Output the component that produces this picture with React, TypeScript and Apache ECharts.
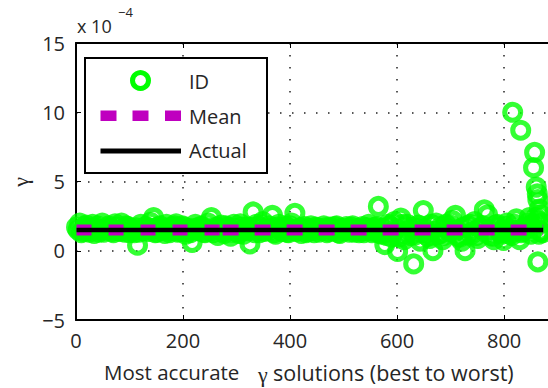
import React, { useEffect, useRef } from "react";
import * as echarts from "echarts";

// ---------- data ----------
const xTickLabels = ["0", "200", "400", "600", "800"];
const yTickLabels = ["−5", "0", "5", "10", "15"];
const yScaleLabel = "x 10";
const yScaleExp = "−4";
const xAxisTitleA = "Most accurate";
const xAxisTitleB = "solutions (best to worst)";
const gammaSymbol = "γ";
const legendNames = ["ID", "Mean", "Actual"];

// ID solutions (x 10^-4), ranked best to worst; band samples every 6th rank
const idRankStep = 6;
const idFirstRankA = 1;
const idBandValuesA = [
  1.7, 2.0, 1.4, 1.85, 1.35, 1.9, 1.6, 1.35, 2.0, 1.5, 1.8, 1.4,
  1.95, 1.45, 2.0, 1.35, 1.75, 1.6, 1.3, 0.4, 1.9, 1.45, 1.7, 2.05,
  2.4, 1.35, 1.8, 1.5, 1.9, 1.3, 1.7, 1.95, 1.4, 1.8, 1.2, 1.6,
  0.6, 1.9, 1.45, 1.75, 1.3, 2.0, 2.4, 1.5, 1.1, 1.85, 1.25, 1.7,
  1.05, 1.9, 1.4, 1.95, 1.2, 1.7, 0.5, 2.8, 1.9, 1.3, 2.1, 1.5,
  1.8, 2.55, 1.2, 1.9, 1.4, 1.75, 1.3, 2.0, 2.7, 1.5, 1.25, 1.75,
  1.4, 1.8, 1.3, 1.65, 1.5, 1.8, 1.3, 1.7, 1.45, 1.8, 1.25, 1.6,
  1.75, 1.35, 1.8, 1.5, 1.3, 1.75, 1.45, 1.9, 1.3, 1.7, 3.2, 1.2,
  0.45, 1.9, 1.0, 2.1, -0.05, 2.35, 0.8, 1.9, 1.1, -0.95, 1.6, 0.7,
  2.9, 1.3, 0.9, 0.0, 2.0, 1.2, 0.8, 1.9, 1.4, 2.2, 2.55, 1.0,
  0.7, 0.0, 1.8, 1.2, 2.1, 0.9, 1.6, 2.95, 2.6, 1.1, 0.8, 1.9,
  1.3, 0.75, 2.0, 1.2, 1.5, 2.3, 0.8, 1.4, 1.6, 2.4, 1.9, 2.4,
  1.2,
];
const idFirstRankB = 4;
const idBandValuesB = [
  1.5, 1.3, 1.75, 1.45, 1.6, 1.25, 1.8, 1.5, 1.35, 1.65, 1.55, 1.3,
  1.7, 1.4, 1.6, 1.8, 1.3, 1.5, 1.65, 1.35, 1.55, 1.75, 1.4, 1.6,
  1.3, 1.7, 1.5, 1.25, 1.65, 1.45, 1.8, 1.35, 1.55, 1.7, 1.4, 1.3,
  1.6, 1.5, 1.75, 1.35, 1.65, 1.45, 1.3, 1.7, 1.55, 1.4, 1.8, 1.5,
  1.35, 1.6, 1.25, 1.7, 1.5, 1.45, 1.65, 1.3, 1.75, 1.55, 1.4, 1.6,
  1.5, 1.3, 1.7, 1.45, 1.6, 1.35, 1.8, 1.5, 1.4, 1.65, 1.55, 1.3,
  1.6, 1.45, 1.7, 1.35, 1.55, 1.65, 1.4, 1.5, 1.75, 1.3, 1.6, 1.45,
  1.55, 1.7, 1.35, 1.6, 1.45, 1.3, 1.65, 1.5, 1.4, 1.75, 1.25, 1.6,
  1.1, 1.8, 1.3, 1.6, 1.0, 1.9, 1.2, 1.5, 1.7, 1.15, 1.85, 1.3,
  1.6, 1.05, 1.9, 1.4, 1.2, 1.75, 1.1, 1.6, 1.85, 1.3, 1.5, 1.0,
  1.7, 1.2, 1.9, 1.4, 1.1, 1.65, 1.8, 1.3, 1.5, 1.05, 1.85, 1.6,
  1.2, 1.75, 1.4, 1.1, 1.9, 1.5, 1.3, 1.7, 2.0, 1.2, 1.6, 2.2,
  1.4,
];
const idExtraPoints: [number, number][] = [
  [816, 10.0], [831, 8.7], [857, 7.1], [855, 6.0], [860, 4.6], [862, 4.1],
  [863, 3.7], [866, 3.0], [868, 2.6], [863, -0.8], [870, 2.0], [872, 1.3],
];

const meanValue = 1.5;
const actualValue = 1.5;
const firstRank = 1;
const meanBreakRank = 274;
const lastRank = 873;

// ---------- styles ----------
const FONT = "'Open Sans', 'Noto Sans', sans-serif";
const GREEK = "'Liberation Serif', 'DejaVu Serif', serif";
const TEXT = "#262626";
const GREEN = "#00ff00";
const MAGENTA = "#bf00bf";

function txt(x: number, y: number, text: string, font: string, align = "left", extra: any = {}) {
  return {
    type: "text",
    x,
    y,
    z: 100,
    ...extra,
    style: {
      text,
      fill: TEXT,
      font,
      align,
      verticalAlign: "middle",
      textAlign: align,
      textVerticalAlign: "middle",
    },
  };
}

export default function App() {
  const ref = useRef<HTMLDivElement>(null);

  useEffect(() => {
    if (!ref.current) return;
    const chart = echarts.init(ref.current, undefined, { renderer: "svg" });

    const idData: [number, number][] = [];
    idBandValuesA.forEach((v, i) => idData.push([idFirstRankA + i * idRankStep, v]));
    idBandValuesB.forEach((v, i) => idData.push([idFirstRankB + i * idRankStep, v]));
    idExtraPoints.forEach((p) => idData.push(p));

    const minus = (v: number) => String(v).replace("-", "−");
    const axisLine = { show: true, onZero: false, lineStyle: { color: "#000", width: 2 } };
    const tick = { show: true, inside: true, length: 5, lineStyle: { color: "#000", width: 1 } };
    const dotted = {
      show: true,
      showMaxLine: false,
      lineStyle: { color: "#222", width: 1.5, type: [1.5, 10.5] },
    };

    const option: any = {
      animation: false,
      backgroundColor: "#ffffff",
      grid: { left: 76, top: 43, bottom: 68, right: 0, show: false },
      xAxis: [
        {
          type: "value",
          min: 0,
          max: 882,
          interval: 200,
          axisLine,
          axisTick: tick,
          axisLabel: {
            show: true,
            margin: 10,
            color: TEXT,
            fontFamily: FONT,
            fontSize: 20,
            showMaxLabel: false,
            formatter: (v: number) => {
              const s = String(v);
              return xTickLabels.indexOf(s) >= 0 ? s : "";
            },
          },
          splitLine: dotted,
        },
        {
          type: "value",
          position: "top",
          min: 0,
          max: 882,
          interval: 200,
          axisLine,
          axisTick: tick,
          axisLabel: { show: false },
          splitLine: { show: false },
        },
      ],
      yAxis: {
        type: "value",
        min: -5,
        max: 15,
        interval: 5,
        axisLine,
        axisTick: tick,
        axisLabel: {
          margin: 11,
          color: TEXT,
          fontFamily: FONT,
          fontSize: 20,
          formatter: (v: number) => {
            const s = minus(v);
            return yTickLabels.indexOf(s) >= 0 ? s : "";
          },
        },
        splitLine: { ...dotted, showMaxLine: true },
      },
      series: [
        {
          name: legendNames[0],
          type: "scatter",
          data: idData,
          symbol: "circle",
          symbolSize: 16,
          itemStyle: { color: "rgba(0,0,0,0)", borderColor: GREEN, borderWidth: 5 },
          emphasis: { disabled: true },
          z: 2,
        },
        {
          name: legendNames[1],
          type: "line",
          data: [
            [firstRank, meanValue],
            [meanBreakRank, meanValue],
          ],
          symbol: "none",
          lineStyle: { color: MAGENTA, width: 11, type: [15, 17], cap: "butt" },
          z: 3,
        },
        {
          name: legendNames[1] + " ",
          type: "line",
          data: [
            [meanBreakRank, meanValue],
            [lastRank, meanValue],
          ],
          symbol: "none",
          lineStyle: { color: MAGENTA, width: 11, type: [16, 16], cap: "butt" },
          z: 3,
        },
        {
          name: legendNames[2],
          type: "line",
          data: [
            [firstRank, actualValue],
            [lastRank, actualValue],
          ],
          symbol: "none",
          lineStyle: { color: "#000", width: 4.5, cap: "butt" },
          z: 4,
        },
      ],
      graphic: [
        // scale factor above the y axis
        txt(77, 26, yScaleLabel, `18px ${FONT}`),
        txt(118, 12, yScaleExp, `13px ${FONT}`),
        // axis titles
        txt(104, 372, xAxisTitleA, `20.5px ${FONT}`),
        txt(258, 374, gammaSymbol, `22px ${GREEK}`),
        txt(273, 372, xAxisTitleB, `21.5px ${FONT}`),
        txt(20, 182, gammaSymbol, `22px ${GREEK}`, "center", { rotation: Math.PI / 2 }),
        // legend
        {
          type: "rect",
          z: 100,
          shape: { x: 85, y: 58, width: 182, height: 115 },
          style: { fill: "#ffffff", stroke: "#000", lineWidth: 2 },
        },
        {
          type: "circle",
          z: 101,
          shape: { cx: 140.5, cy: 80.5, r: 8 },
          style: { fill: "none", stroke: GREEN, lineWidth: 5 },
        },
        ...[100.5, 132.5, 165].map((x) => ({
          type: "rect",
          z: 101,
          shape: { x, y: 110.5, width: 16, height: 10.5 },
          style: { fill: MAGENTA },
        })),
        {
          type: "line",
          z: 101,
          shape: { x1: 100.5, y1: 151, x2: 181, y2: 151 },
          style: { stroke: "#000", lineWidth: 5 },
        },
        ...legendNames.map((name, i) =>
          txt(189, [81, 116, 150.5][i], name, `20px ${FONT}`, "left", { z: 102 })
        ),
      ],
    };

    chart.setOption(option);
    return () => chart.dispose();
  }, []);

  return (
    <div
      ref={ref}
      style={{ position: "absolute", left: 0, top: 0, width: 548, height: 388, background: "#fff" }}
    />
  );
}
